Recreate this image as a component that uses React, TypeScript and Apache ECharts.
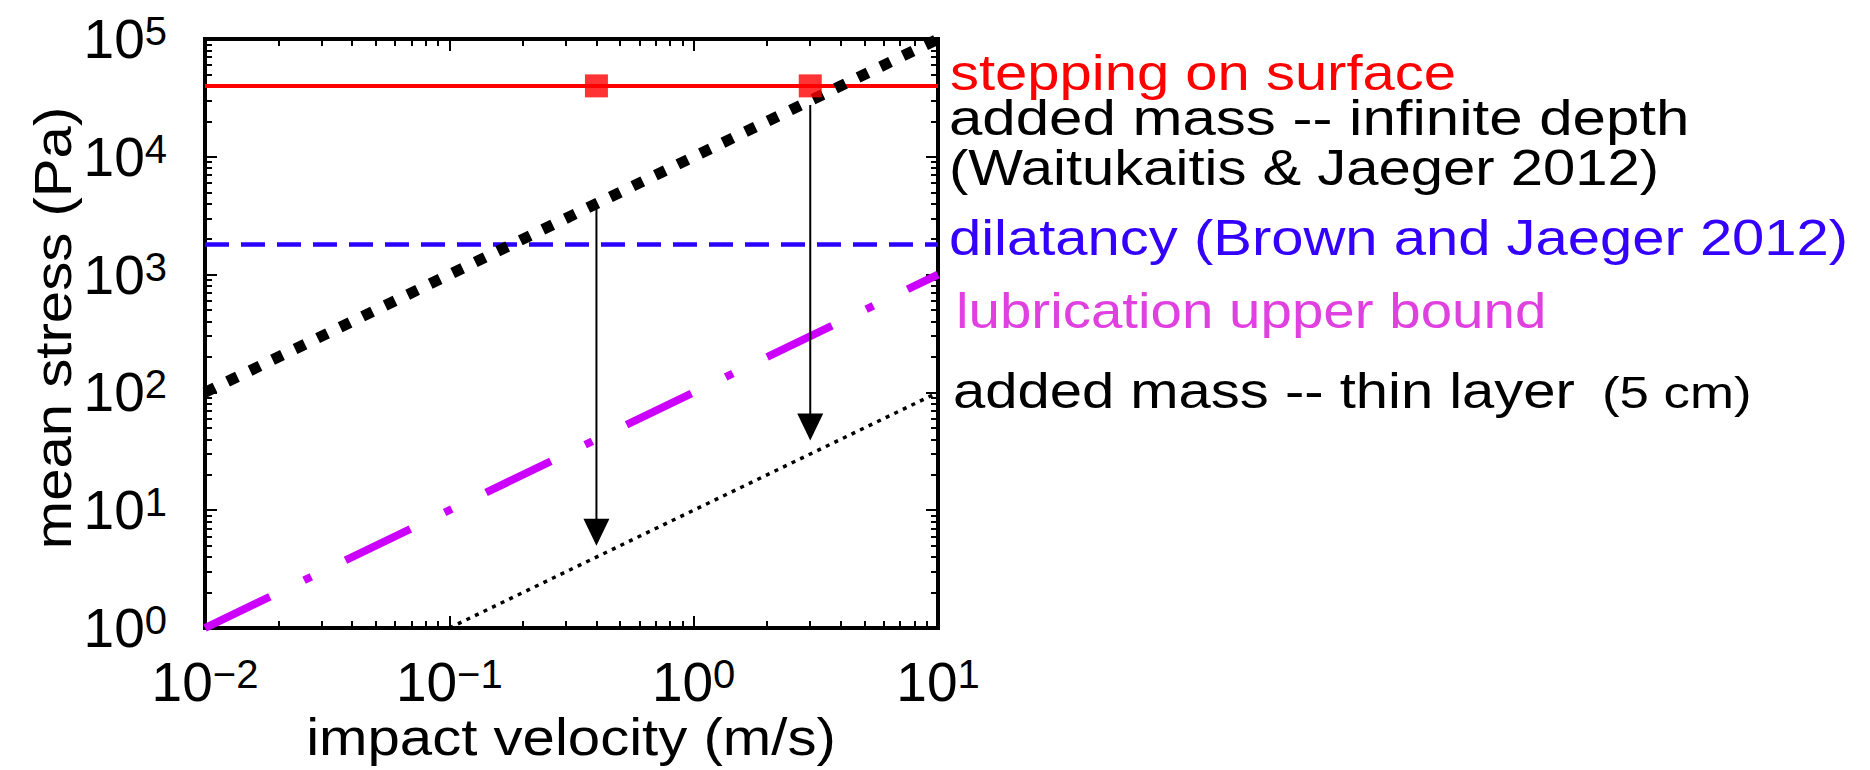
import React, { useEffect, useRef } from 'react';
import * as echarts from 'echarts';

// ---- data ----
const velocityRange = [0.01, 10];
const stressRange = [1, 100000];
const xMajorTicks = [0.01, 0.1, 1, 10];
const yMajorTicks = [1, 10, 100, 1000, 10000, 100000];
const xMinorTicks = [
  0.02, 0.03, 0.04, 0.05, 0.06, 0.07, 0.08, 0.09,
  0.2, 0.3, 0.4, 0.5, 0.6, 0.7, 0.8, 0.9,
  2, 3, 4, 5, 6, 7, 8, 9,
];
const yMinorTicks = [
  2, 3, 4, 5, 6, 7, 8, 9,
  20, 30, 40, 50, 60, 70, 80, 90,
  200, 300, 400, 500, 600, 700, 800, 900,
  2000, 3000, 4000, 5000, 6000, 7000, 8000, 9000,
  20000, 30000, 40000, 50000, 60000, 70000, 80000, 90000,
];

const steppingLine = [[0.01, 40000], [10, 40000]];
const steppingPoints = [[0.4, 40000], [3, 40000]];
const addedMassInfinite = [[0.01, 100], [10, 100000]];
const dilatancyLine = [[0.01, 1800], [10, 1800]];
const lubricationLine = [[0.01, 1], [10, 1000]];
const addedMassThin = [[0.1, 1], [10, 100]];
// [velocity, stress at arrow start, stress at arrow tip]
const arrows = [[0.4, 3600, 5], [3, 27500, 39]];

const labelTexts = [
  'stepping on surface',
  'added mass -- infinite depth',
  '(Waitukaitis & Jaeger 2012)',
  'dilatancy (Brown and Jaeger 2012)',
  'lubrication upper bound',
  'added mass -- thin layer',
  '(5 cm)',
];

const FONT = '"Liberation Sans", Arial, Helvetica, sans-serif';

function powLabel(v: number) {
  const e = Math.round(Math.log10(v));
  const s = e < 0 ? '\u2212' + String(-e) : String(e);
  return '{b|10}{s|' + s + '}';
}

const richStyle = {
  b: { fontSize: 55, lineHeight: 56, fontFamily: FONT, color: '#000' },
  s: { fontSize: 40, lineHeight: 38, fontFamily: FONT, color: '#000', verticalAlign: 'top' },
};

function makeX(position: 'bottom' | 'top', minor: boolean, labels: boolean) {
  return {
    type: 'log',
    logBase: 10,
    min: velocityRange[0],
    max: velocityRange[1],
    position,
    axisLine: { show: false },
    splitLine: { show: false },
    axisTick: {
      show: true,
      inside: true,
      length: minor ? 7 : 12,
      lineStyle: { color: '#000', width: 2 },
      customValues: minor ? xMinorTicks : xMajorTicks,
    },
    axisLabel: labels
      ? {
          show: true,
          margin: 26,
          customValues: xMajorTicks,
          formatter: powLabel,
          rich: richStyle,
        }
      : { show: false },
  };
}

function makeY(position: 'left' | 'right', minor: boolean, labels: boolean) {
  return {
    type: 'log',
    logBase: 10,
    min: stressRange[0],
    max: stressRange[1],
    position,
    axisLine: { show: false },
    splitLine: { show: false },
    axisTick: {
      show: true,
      inside: true,
      length: minor ? 7 : 12,
      lineStyle: { color: '#000', width: 2 },
      customValues: minor ? yMinorTicks : yMajorTicks,
    },
    axisLabel: labels
      ? {
          show: true,
          margin: 38,
          customValues: yMajorTicks,
          formatter: powLabel,
          rich: richStyle,
        }
      : { show: false },
  };
}

export default function App() {
  const ref = useRef<HTMLDivElement>(null);

  useEffect(() => {
    if (!ref.current) return;
    const chart = echarts.init(ref.current, null, { renderer: 'svg' });

    const sideLabel = (
      text: string,
      x: number,
      y: number,
      color: string,
      size = 50,
      sx = 1.16
    ) => ({
      type: 'text',
      x,
      y,
      scaleX: sx,
      style: {
        text,
        fill: color,
        fontSize: size,
        fontFamily: FONT,
        align: 'left',
        verticalAlign: 'middle',
      },
    });

    const option: any = {
      animation: false,
      backgroundColor: '#fff',
      textStyle: { fontFamily: FONT },
      grid: {
        left: 205,
        top: 39,
        width: 733,
        height: 589,
        show: true,
        borderColor: '#000',
        borderWidth: 4,
        backgroundColor: 'transparent',
        containLabel: false,
      },
      xAxis: [
        makeX('bottom', false, true),
        makeX('bottom', true, false),
        makeX('top', false, false),
        makeX('top', true, false),
      ],
      yAxis: [
        makeY('left', false, true),
        makeY('left', true, false),
        makeY('right', false, false),
        makeY('right', true, false),
      ],
      series: [
        {
          type: 'line',
          name: labelTexts[0],
          data: steppingLine,
          symbol: 'none',
          lineStyle: { color: '#ff0000', width: 4 },
          z: 2,
        },
        {
          type: 'line',
          name: labelTexts[3],
          data: dilatancyLine,
          symbol: 'none',
          lineStyle: { color: '#2a00ff', width: 4.5, type: [24, 12] },
          z: 2,
        },
        {
          type: 'line',
          name: labelTexts[4],
          data: lubricationLine,
          symbol: 'none',
          lineStyle: { color: '#cc00ff', width: 8, type: [72, 38, 8, 38], cap: 'butt' },
          z: 2,
        },
        {
          type: 'line',
          name: labelTexts[5],
          data: addedMassThin,
          symbol: 'none',
          lineStyle: { color: '#000', width: 3.5, type: [4, 5.5], cap: 'butt' },
          z: 2,
        },
        {
          type: 'line',
          name: labelTexts[1],
          data: addedMassInfinite,
          symbol: 'none',
          lineStyle: { color: '#000', width: 11, type: [11, 14], cap: 'butt' },
          z: 3,
        },
        {
          type: 'custom',
          name: 'arrows',
          data: arrows,
          encode: { x: 0, y: [1, 2] },
          z: 4,
          renderItem: (params: any, api: any) => {
            const v = api.value(0);
            const p0 = api.coord([v, api.value(1)]);
            const p1 = api.coord([v, api.value(2)]);
            const hl = 27;
            const hw = 13;
            return {
              type: 'group',
              children: [
                {
                  type: 'line',
                  shape: { x1: p0[0], y1: p0[1], x2: p1[0], y2: p1[1] - hl + 2 },
                  style: { stroke: '#000', lineWidth: 2 },
                },
                {
                  type: 'polygon',
                  shape: {
                    points: [
                      [p1[0] - hw, p1[1] - hl],
                      [p1[0] + hw, p1[1] - hl],
                      [p1[0], p1[1]],
                    ],
                  },
                  style: { fill: '#000' },
                },
              ],
            };
          },
        },
        {
          type: 'scatter',
          name: 'stepping points',
          data: steppingPoints,
          symbol: 'rect',
          symbolSize: 23,
          itemStyle: { color: '#ff0000' },
          z: 5,
        },
      ],
      graphic: [
        {
          type: 'text',
          x: 53,
          y: 328,
          rotation: Math.PI / 2,
          scaleX: 1.14,
          style: {
            text: 'mean stress (Pa)',
            fill: '#000',
            fontSize: 51,
            fontFamily: FONT,
            align: 'center',
            verticalAlign: 'middle',
          },
        },
        {
          type: 'text',
          x: 571,
          y: 737,
          scaleX: 1.14,
          style: {
            text: 'impact velocity (m/s)',
            fill: '#000',
            fontSize: 51,
            fontFamily: FONT,
            align: 'center',
            verticalAlign: 'middle',
          },
        },
        sideLabel(labelTexts[0], 950, 72, '#ff0000'),
        sideLabel(labelTexts[1], 949, 118, '#000', 50, 1.2),
        sideLabel(labelTexts[2], 949, 167, '#000'),
        sideLabel(labelTexts[3], 949, 237, '#3300ff'),
        sideLabel(labelTexts[4], 956, 311, '#e040e0', 50, 1.13),
        sideLabel(labelTexts[5], 953, 390, '#000'),
        sideLabel(labelTexts[6], 1602, 393, '#000', 44, 1.2),
      ],
    };

    chart.setOption(option);
    return () => chart.dispose();
  }, []);

  return (
    <div
      ref={ref}
      style={{ position: 'fixed', left: 0, top: 0, width: 1870, height: 770, background: '#fff' }}
    />
  );
}
